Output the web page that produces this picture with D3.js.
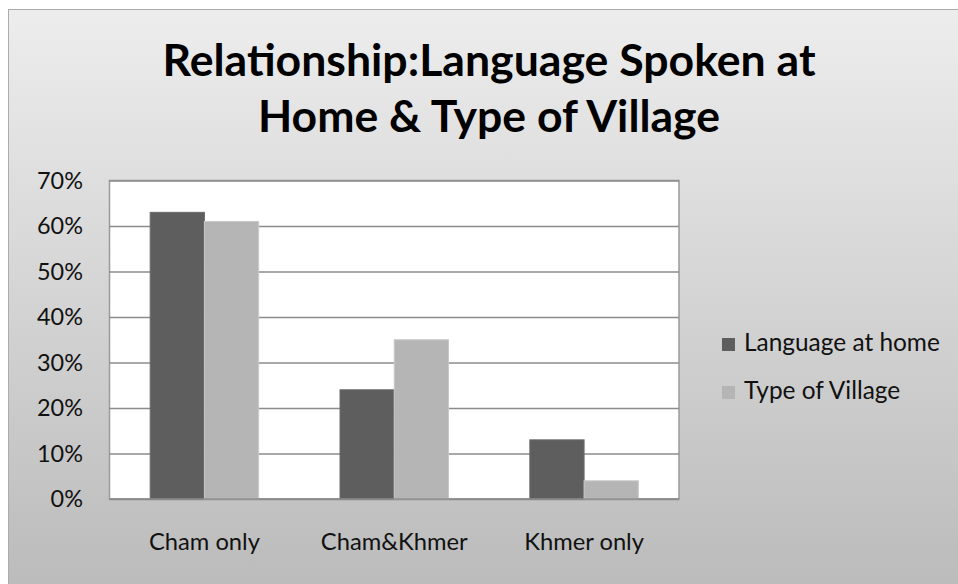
<!DOCTYPE html>
<html><head><meta charset="utf-8">
<script src="https://cdn.jsdelivr.net/npm/d3@7"></script>
<style>html,body{margin:0;padding:0;background:#fff;overflow:hidden}svg{display:block}</style>
</head><body>
<svg id="chart" width="958" height="584"></svg>
<script>
const categories = ["Cham only", "Cham&Khmer", "Khmer only"];
const seriesNames = ["Language at home", "Type of Village"];
const languageAtHome = [63, 24, 13];
const typeOfVillage = [61, 35, 4];
const yTickValues = [0, 10, 20, 30, 40, 50, 60, 70];
const titleLines = ["Relationship:Language Spoken at", "Home & Type of Village"];
const seriesColors = ["#5e5e5e", "#b5b5b5"];

const FONT = "Lato, 'Open Sans', sans-serif";
const svg = d3.select("#chart");

// gradient background
const defs = svg.append("defs");
const grad = defs.append("linearGradient").attr("id", "bg").attr("x1", 0).attr("y1", 0).attr("x2", 0).attr("y2", 1);
grad.append("stop").attr("offset", "0%").attr("stop-color", "#ededed");
grad.append("stop").attr("offset", "100%").attr("stop-color", "#bababa");
svg.append("rect").attr("x", 8.5).attr("y", 9.5).attr("width", 960).attr("height", 590)
  .attr("fill", "url(#bg)").attr("stroke", "#acacac").attr("stroke-width", 1);

// fit text to a target width
function fit(sel, target) {
  sel.each(function() {
    const fs = parseFloat(d3.select(this).attr("font-size"));
    const w = this.getComputedTextLength();
    if (w > 0) d3.select(this).attr("font-size", fs * target / w);
  });
}

// title
const titleBase = [76, 132];
const titleWidths = [653, 462];
titleLines.forEach((t, i) => {
  const el = svg.append("text").attr("x", 489).attr("y", titleBase[i])
    .attr("text-anchor", "middle").attr("font-family", FONT).attr("font-weight", "bold")
    .attr("font-size", 42).attr("fill", "#000").text(t);
  fit(el, titleWidths[i]);
});

const plot = {left: 109.5, right: 679, top: 180.5, bottom: 499};
const y = d3.scaleLinear().domain([0, 70]).range([plot.bottom, plot.top]);
const x0 = d3.scaleBand().domain(categories).range([plot.left, plot.right])
  .paddingInner(1.5 / 3.5).paddingOuter(0.75 / 3.5);
const x1 = d3.scaleBand().domain(seriesNames).range([0, x0.bandwidth()]);

// plot area
svg.append("rect").attr("x", plot.left).attr("y", plot.top)
  .attr("width", plot.right - plot.left).attr("height", plot.bottom - plot.top)
  .attr("fill", "#fff").attr("stroke", "#9a9a9a").attr("stroke-width", 1.5);

// gridlines
const yAxis = d3.axisLeft(y).tickValues(yTickValues).tickSize(-(plot.right - plot.left))
  .tickFormat(d => d + "%").tickPadding(25);
const gy = svg.append("g").attr("transform", `translate(${plot.left},0)`).call(yAxis);
gy.select(".domain").remove();
gy.selectAll(".tick line").attr("stroke", "#8c8c8c").attr("stroke-width", 1.6);
gy.selectAll(".tick text").attr("font-family", FONT).attr("font-size", 20).attr("fill", "#111")
  .attr("dy", "0.34em");
gy.selectAll(".tick text").each(function() {
  const el = d3.select(this);
  el.attr("font-size", 20 * 46 / this.getComputedTextLength() * (this.textContent.length === 2 ? 1 : 1));
});
// keep consistent font size across ticks
const tickFs = parseFloat(gy.select(".tick:last-of-type text").attr("font-size"));
gy.selectAll(".tick text").attr("font-size", tickFs).attr("x", -(plot.left - 83)).attr("text-anchor", "end");

// bars
const data = categories.map((c, i) => ({cat: c, vals: [languageAtHome[i], typeOfVillage[i]]}));
const groups = svg.append("g").selectAll("g").data(data).join("g")
  .attr("transform", d => `translate(${x0(d.cat)},0)`);
groups.selectAll("rect").data(d => d.vals.map((v, j) => ({name: seriesNames[j], v, j})))
  .join("rect")
  .attr("x", d => x1(d.name))
  .attr("y", d => y(d.v))
  .attr("width", x1.bandwidth())
  .attr("height", d => y(0) - y(d.v))
  .attr("fill", d => seriesColors[d.j])
  .attr("stroke", d => d.j === 0 ? "#6a6a6a" : "#c9c9c9")
  .attr("stroke-width", 1);

// bottom axis line
svg.append("line").attr("x1", plot.left).attr("x2", plot.right).attr("y1", plot.bottom).attr("y2", plot.bottom)
  .attr("stroke", "#8c8c8c").attr("stroke-width", 1.6);

// x labels
const xAxis = d3.axisBottom(x0).tickSize(0).tickPadding(0);
const gx = svg.append("g").attr("transform", `translate(0,${plot.bottom})`).call(xAxis);
gx.select(".domain").remove();
gx.selectAll(".tick text").attr("font-family", FONT).attr("font-size", 21).attr("fill", "#111")
  .attr("dy", 0).attr("y", 51);
const firstLbl = gx.select(".tick text").node();
const xFs = 21 * 111 / firstLbl.getComputedTextLength();
gx.selectAll(".tick text").attr("font-size", xFs);

// legend
const legend = svg.append("g");
seriesNames.forEach((n, i) => {
  const g = legend.append("g").attr("transform", `translate(722,${338 + i * 48})`);
  g.append("rect").attr("width", 13).attr("height", 13).attr("fill", seriesColors[i]);
  const t = g.append("text").attr("x", 22).attr("y", 13).attr("font-family", FONT)
    .attr("font-size", 21).attr("fill", "#111").text(n);
  if (i === 0) fit(t, 196);
});
const lfs = legend.select("text").attr("font-size");
legend.selectAll("text").attr("font-size", lfs);
</script>
</body></html>
